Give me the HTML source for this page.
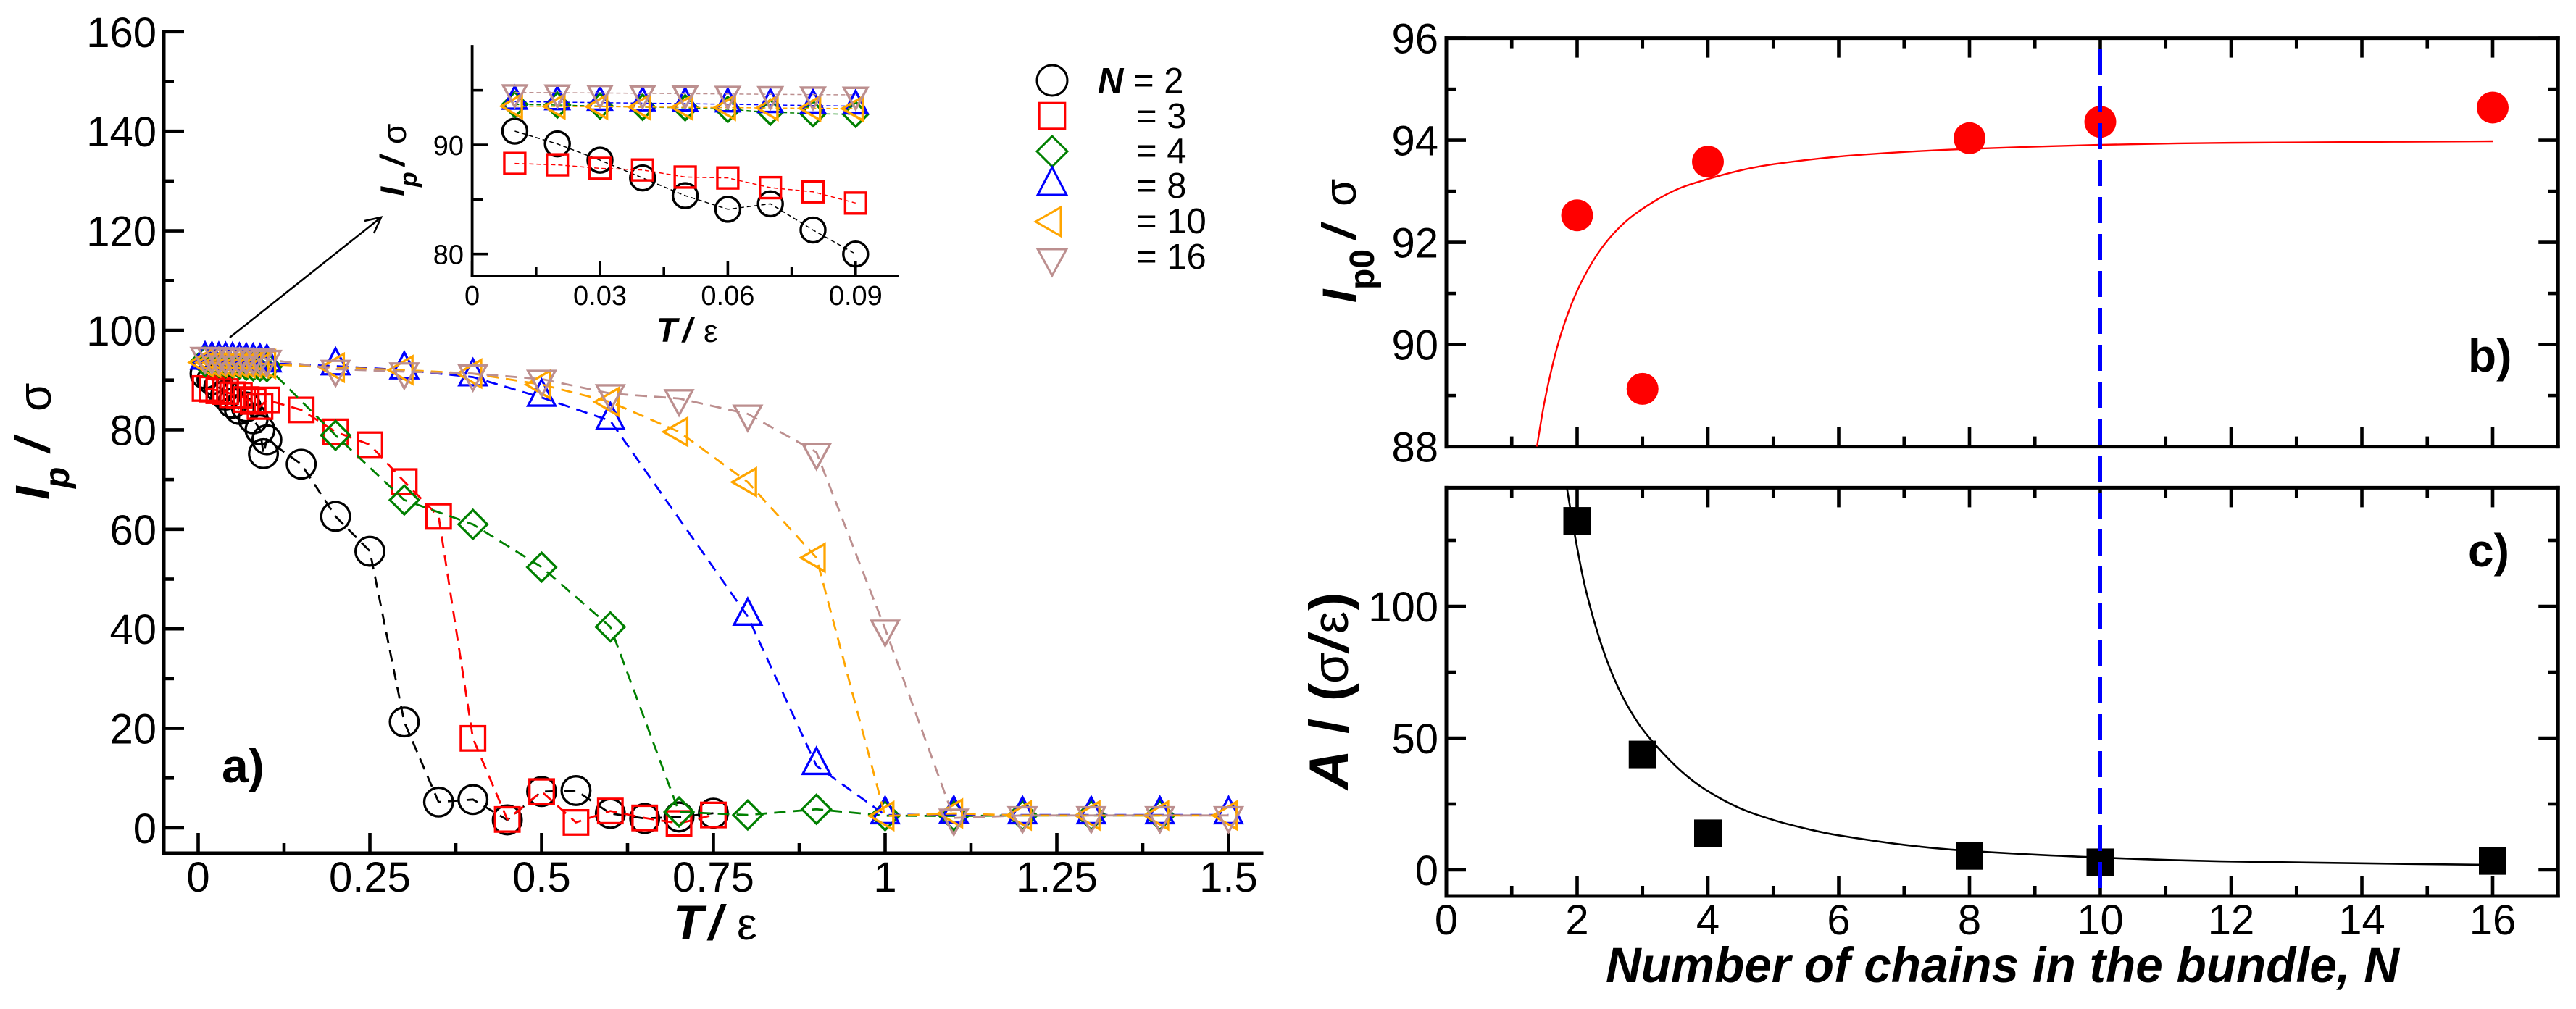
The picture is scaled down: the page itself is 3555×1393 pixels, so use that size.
<!DOCTYPE html>
<html lang="en">
<head>
<meta charset="utf-8">
<title>Persistence length versus temperature for polymer bundles</title>
<style>
html,body{margin:0;padding:0;background:#fff;width:3555px;height:1393px;overflow:hidden}
svg{display:block}
text{font-family:"Liberation Sans",sans-serif;fill:#000}
.bi{font-weight:bold;font-style:italic}
.b{font-weight:bold}
</style>
</head>
<body>
<svg id="figure" width="3555" height="1393" viewBox="0 0 3555 1393" xmlns="http://www.w3.org/2000/svg">
  <g id="panel-a">
    <g id="a-axes"></g>
    <g id="a-series"></g>
    <text x="306" y="1080" font-size="66" class="b">a)</text>
    <text transform="translate(68,690) rotate(-90)" font-size="67" class="bi"><tspan x="0">I</tspan><tspan x="16" dy="27" font-size="48">p</tspan><tspan x="66" dy="-27">/</tspan><tspan x="122" dy="2" font-size="64" font-weight="normal" font-style="normal">σ</tspan></text>
    <text y="1297" font-size="68" class="bi"><tspan x="929">T</tspan><tspan x="978">/</tspan><tspan x="1017" font-weight="normal" font-style="normal" font-size="62">ε</tspan></text>
    <g fill="none" stroke="#000" stroke-width="2.6">
      <line x1="317" y1="466" x2="526" y2="300"></line>
      <polyline points="503,305 526,300 516,322"></polyline>
    </g>
  </g>
  <g id="panel-inset">
    <g id="i-axes"></g>
    <g id="i-series"></g>
    <text transform="translate(558,271) rotate(-90)" font-size="47" class="bi"><tspan x="0">I</tspan><tspan x="13" dy="17" font-size="34">p</tspan><tspan x="42" dy="-17">/</tspan><tspan x="72" dy="2" font-size="46" font-weight="normal" font-style="normal">σ</tspan></text>
    <text y="472" font-size="47" class="bi"><tspan x="906">T</tspan><tspan x="942">/</tspan><tspan x="971" font-weight="normal" font-style="normal" font-size="44">ε</tspan></text>
  </g>
  <g id="legend">
    <g id="legend-marks"></g>
    <text x="1515" y="128" font-size="49"><tspan class="bi">N</tspan> = 2</text>
    <text x="1568" y="177" font-size="49">= 3</text>
    <text x="1568" y="225" font-size="49">= 4</text>
    <text x="1568" y="273" font-size="49">= 8</text>
    <text x="1568" y="322" font-size="49">= 10</text>
    <text x="1568" y="371" font-size="49">= 16</text>
  </g>
  <g id="panel-b">
    <g id="b-axes"></g>
    <g id="b-series"></g>
    <text x="3406" y="513" font-size="64" class="b">b)</text>
    <text transform="translate(1871,418) rotate(-90)" font-size="66" class="bi"><tspan x="0">I</tspan><tspan x="18" dy="25" font-size="48" font-style="normal">p0</tspan><tspan x="88" dy="-25">/</tspan><tspan x="133" font-size="62" font-weight="normal" font-style="normal">σ</tspan></text>
  </g>
  <g id="panel-c">
    <g id="c-axes"></g>
    <g id="c-series"></g>
    <text x="3406" y="782" font-size="64" class="b">c)</text>
    <text transform="translate(1860,1090) rotate(-90)" font-size="76" class="b"><tspan x="0" font-style="italic">A</tspan><tspan x="77">/</tspan><tspan x="122">(</tspan><tspan x="146" font-weight="normal" font-size="70">σ</tspan><tspan x="190" font-style="italic">/</tspan><tspan x="215" font-weight="normal" font-size="70">ε</tspan><tspan x="247">)</tspan></text>
    <text x="2216" y="1356" font-size="69" class="bi" textLength="1095" lengthAdjust="spacingAndGlyphs">Number of chains in the bundle, N</text>
  </g>
  <g id="ref-layer"></g>
</svg>
<script>
// ---------- Panel a + inset data (T / epsilon, Ip / sigma) ----------
const tempN2  = [0.01,0.02,0.03,0.04,0.05,0.06,0.07,0.08,0.09,0.095,0.1,0.15,0.2,0.25,0.3,0.35,0.4,0.45,0.5,0.55,0.6,0.65,0.7,0.75];
const lpN2    = [91.26,90.09,88.6,86.97,85.35,84.1,84.6,82.2,80.0,75.2,78,73.1,62.6,55.6,21.3,5.2,5.7,1.6,7.3,7.5,2.9,1.9,2.2,2.95];
const tempN3  = [0.01,0.02,0.03,0.04,0.05,0.06,0.07,0.08,0.09,0.1,0.15,0.2,0.25,0.3,0.35,0.4,0.45,0.5,0.55,0.6,0.65,0.7,0.75];
const lpN3    = [88.3,88.17,87.85,87.7,87.05,86.97,86.08,85.7,84.67,86,84,79.6,77,69.6,62.6,18,1.7,7.3,1.1,3.4,2,0.9,2.6];
const tempN4  = [0.01,0.02,0.03,0.04,0.05,0.06,0.07,0.08,0.09,0.1,0.2,0.3,0.4,0.5,0.6,0.7,0.8,0.9,1,1.1,1.2,1.3,1.4];
const lpN4    = [93.7,93.65,93.55,93.45,93.4,93.25,93.0,92.85,92.8,92.7,78.9,65.9,61,52.4,40.4,3.2,2.6,3.75,2.45,2.4,2.5,2.5,2.5];
const tempN8  = [0.01,0.02,0.03,0.04,0.05,0.06,0.07,0.08,0.09,0.1,0.2,0.3,0.4,0.5,0.6,0.8,0.9,1,1.1,1.2,1.3,1.4,1.5];
const lpN8    = [93.96,93.92,93.87,93.82,93.78,93.72,93.66,93.6,93.54,93.4,92.8,92,90.6,86.5,81.8,42.5,12.5,2.6,2.7,2.6,2.6,2.6,2.6];
const tempN10 = [0.01,0.02,0.03,0.04,0.05,0.06,0.07,0.08,0.09,0.1,0.2,0.3,0.4,0.5,0.6,0.7,0.8,0.9,1,1.1,1.2,1.3,1.4,1.5];
const lpN10   = [93.54,93.52,93.5,93.47,93.44,93.41,93.38,93.35,93.32,93.2,92.5,92,91.3,89.1,85.6,79.6,69.5,54.3,2.4,2.9,2.5,2.5,2.5,2.5];
const tempN16 = [0.01,0.02,0.03,0.04,0.05,0.06,0.07,0.08,0.09,0.1,0.2,0.3,0.4,0.5,0.6,0.7,0.8,0.9,1,1.1,1.2,1.3,1.4,1.5];
const lpN16   = [94.8,94.78,94.75,94.72,94.69,94.66,94.63,94.6,94.58,94.2,92.2,91.7,91.3,90.2,87.3,86.3,83.2,75.5,40,2.0,2.5,2.5,2.5,2.5];

// ---------- Panel a ticks ----------
const mainYMajor = [0,20,40,60,80,100,120,140,160];
const mainYMinor = [10,30,50,70,90,110,130,150];
const mainXMajor = [0,0.25,0.5,0.75,1,1.25,1.5];
const mainXLabels = ["0","0.25","0.5","0.75","1","1.25","1.5"];
const mainXMinor = [0.125,0.375,0.625,0.875,1.125,1.375];

// ---------- Inset ticks ----------
const insetYMajor = [80,90];
const insetYMinor = [85,95];
const insetXMajor = [0,0.03,0.06,0.09];
const insetXLabels = ["0","0.03","0.06","0.09"];
const insetXMinor = [0.015,0.045,0.075];

// ---------- Panel b data ----------
const chainsB = [2,3,4,8,10,16];
const lp0Values = [92.53,89.13,93.58,94.04,94.36,94.64];
const fitBN = [1.385,1.5,1.65,1.8,2,2.25,2.5,2.8,3.2,3.55,3.92,4.5,5,6,7,8,10,12,16];
const fitBI = [88.0,88.87,89.73,90.39,91.05,91.65,92.09,92.47,92.82,93.05,93.21,93.41,93.53,93.68,93.77,93.83,93.91,93.95,93.98];
const bYMajor = [88,90,92,94,96];
const bYMinor = [89,91,93,95];

// ---------- Panel c data ----------
const chainsC = [2,3,4,8,10,16];
const aValues = [132.4,43.8,13.9,5.3,2.9,3.4];
const fitCN = [1.843,1.965,2.13,2.37,2.63,2.925,3.22,3.59,3.96,4.48,5.03,5.58,6,7,8,10,12,16];
const fitCA = [145,127,106.5,85.5,69,56,46.8,37.5,30.5,23.5,18.7,15.2,13.1,9.5,7.2,4.7,3.2,1.9];
const cYMajor = [0,50,100];
const cYMinor = [25,75,125];
const rightXMajor = [0,2,4,6,8,10,12,14,16];
const rightXMinor = [1,3,5,7,9,11,13,15];
const criticalN = [10];

// ---------- Axis functions ----------
const xA = t => 273.5 + t * 948;
const yA = v => 1143 - v * 6.87;
const xI = t => 651.6 + t * 5880;
const yI = v => 350.7 - (v - 80) * 15.07;
const xR = n => 1996 + n * 90.25;
const yB = v => 616.6 - (v - 88) * 70.5;
const yC = v => 1201 - v * 3.64;

const NS = 'http://www.w3.org/2000/svg';
function add(parent, tag, attrs, text) {
  const el = document.createElementNS(NS, tag);
  for (const k in attrs) el.setAttribute(k, attrs[k]);
  if (text !== undefined) el.textContent = text;
  parent.appendChild(el);
  return el;
}
function tick(parent, x1, y1, x2, y2, w) {
  const el = add(parent, 'line', {x1, y1, x2, y2, stroke: '#000', 'stroke-width': w});
  
  
}
function spine(parent, x1, y1, x2, y2, w) {
  const el = add(parent, 'line', {x1, y1, x2, y2, stroke: '#000', 'stroke-width': w, 'stroke-linecap': 'square'});
  
  
}
function label(parent, x, y, str, size, anchor) {
  const el = add(parent, 'text', {x, y, 'font-size': size, 'text-anchor': anchor}, str);
  
  
}
function markerShape(parent, kind, cx, cy, s, color, sw) {
  let el;
  const common = {fill: 'none', stroke: color, 'stroke-width': sw};
  if (kind === 'circle') {
    el = add(parent, 'circle', Object.assign({cx, cy, r: 19.8 * s}, common));
  } else if (kind === 'square') {
    const h = 16.8 * s;
    el = add(parent, 'rect', Object.assign({x: cx - h, y: cy - h, width: 2 * h, height: 2 * h}, common));
  } else {
    let p;
    if (kind === 'diamond') p = [[0,-19.8],[19.8,0],[0,19.8],[-19.8,0]];
    if (kind === 'up') p = [[0,-24.5],[18.8,11.3],[-18.8,11.3]];
    if (kind === 'left') p = [[-21.5,0],[11.3,-18.8],[11.3,18.8]];
    if (kind === 'down') p = [[0,23],[18.8,-11.3],[-18.8,-11.3]];
    const pts = p.map(q => (cx + q[0] * s) + ',' + (cy + q[1] * s)).join(' ');
    el = add(parent, 'polygon', Object.assign({points: pts}, common));
  }
  return el;
}

const seriesList = [
  {n: 2,  kind: 'circle',  color: '#000000', temps: tempN2,  vals: lpN2},
  {n: 3,  kind: 'square',  color: '#ff0000', temps: tempN3,  vals: lpN3},
  {n: 4,  kind: 'diamond', color: '#008000', temps: tempN4,  vals: lpN4},
  {n: 8,  kind: 'up',      color: '#0000ff', temps: tempN8,  vals: lpN8},
  {n: 10, kind: 'left',    color: '#ffa500', temps: tempN10, vals: lpN10},
  {n: 16, kind: 'down',    color: '#bc8f8f', temps: tempN16, vals: lpN16}
];

// ---------- Panel a axes ----------
const aAxes = document.getElementById('a-axes');
spine(aAxes, 226, 44, 226, 1178, 5);
spine(aAxes, 226, 1178, 1741, 1178, 5);
mainYMajor.forEach(v => {
  tick(aAxes, 226, yA(v), 254, yA(v), 4.6);
  label(aAxes, 216, yA(v) + 21, String(v), 58, 'end');
});
mainYMinor.forEach(v => tick(aAxes, 226, yA(v), 240, yA(v), 4.6));
mainXMajor.forEach((t, i) => {
  tick(aAxes, xA(t), 1178, xA(t), 1150, 4.6);
  label(aAxes, xA(t), 1231, mainXLabels[i], 58, 'middle');
});
mainXMinor.forEach(t => tick(aAxes, xA(t), 1178, xA(t), 1164, 4.6));

// ---------- Inset axes ----------
const iAxes = document.getElementById('i-axes');
spine(iAxes, 651.6, 64, 651.6, 381, 3.8);
spine(iAxes, 651.6, 381, 1239, 381, 3.8);
insetYMajor.forEach(v => {
  tick(iAxes, 651.6, yI(v), 673, yI(v), 3.6);
  label(iAxes, 640, yI(v) + 14, String(v), 38, 'end');
});
insetYMinor.forEach(v => tick(iAxes, 651.6, yI(v), 666, yI(v), 3.6));
insetXMajor.forEach((t, i) => {
  tick(iAxes, xI(t), 381, xI(t), 361, 3.6);
  label(iAxes, xI(t), 421, insetXLabels[i], 38, 'middle');
});
insetXMinor.forEach(t => tick(iAxes, xI(t), 381, xI(t), 368, 3.6));

// ---------- Panel a + inset series ----------
const aSeries = document.getElementById('a-series');
const iSeries = document.getElementById('i-series');
seriesList.forEach(s => {
  const g = add(aSeries, 'g', {});
  
  
  const line = add(g, 'polyline', {
    points: s.temps.map((t, i) => xA(t) + ',' + yA(s.vals[i])).join(' '),
    fill: 'none', stroke: s.color, 'stroke-width': 2.8, 'stroke-dasharray': '16 10'
  });
  
  
  s.temps.forEach((t, i) => {
    const m = markerShape(g, s.kind, xA(t), yA(s.vals[i]), 1, s.color, 3.3);
    
    
  });

  const gi = add(iSeries, 'g', {});
  
  
  const idx = [];
  s.temps.forEach((t, i) => { if (t <= 0.0901) idx.push(i); });
  const il = add(gi, 'polyline', {
    points: idx.map(i => xI(s.temps[i]) + ',' + yI(s.vals[i])).join(' '),
    fill: 'none', stroke: s.color, 'stroke-width': 1.5, 'stroke-dasharray': '6 4'
  });
  
  
  idx.forEach(i => {
    const m = markerShape(gi, s.kind, xI(s.temps[i]), yI(s.vals[i]), 0.86, s.color, 3.4);
    
    
  });
});

// ---------- Legend markers ----------
const legendMarks = document.getElementById('legend-marks');
const legendRowY = [111, 160, 209, 257, 306, 356];
seriesList.forEach((s, i) => {
  const m = markerShape(legendMarks, s.kind, 1452, legendRowY[i], 1.06, s.color, 3);
  
  
});

// ---------- Panels b and c axes ----------
function boxAxes(parent, top, bottom, yMap, major, minor, showX) {
  const L = xR(0), R = xR(17);
  spine(parent, L, top, R, top, 5);
  spine(parent, L, bottom, R, bottom, 5);
  spine(parent, L, top, L, bottom, 5);
  spine(parent, R, top, R, bottom, 5);
  major.forEach(v => {
    tick(parent, L, yMap(v), L + 27, yMap(v), 4.6);
    tick(parent, R, yMap(v), R - 27, yMap(v), 4.6);
    label(parent, 1985, yMap(v) + 21, String(v), 58, 'end');
  });
  minor.forEach(v => {
    tick(parent, L, yMap(v), L + 14, yMap(v), 4.6);
    tick(parent, R, yMap(v), R - 14, yMap(v), 4.6);
  });
  rightXMajor.forEach(n => {
    tick(parent, xR(n), bottom, xR(n), bottom - 27, 4.6);
    tick(parent, xR(n), top, xR(n), top + 27, 4.6);
    if (showX) label(parent, xR(n), 1290, String(n), 58, 'middle');
  });
  rightXMinor.forEach(n => {
    tick(parent, xR(n), bottom, xR(n), bottom - 14, 4.6);
    tick(parent, xR(n), top, xR(n), top + 14, 4.6);
  });
}
boxAxes(document.getElementById('b-axes'), 52.6, 616.6, yB, bYMajor, bYMinor, false);
boxAxes(document.getElementById('c-axes'), 673.4, 1237, yC, cYMajor, cYMinor, true);

// Non-uniform Catmull-Rom through the read curve points (chord-length spacing)
function smoothPath(xs, ys) {
  const n = xs.length;
  const h = [];
  for (let i = 0; i < n - 1; i++) h.push(Math.hypot(xs[i + 1] - xs[i], ys[i + 1] - ys[i]));
  const mx = [], my = [];
  for (let i = 0; i < n; i++) {
    const a = Math.max(i - 1, 0), b = Math.min(i + 1, n - 1);
    let len = 0;
    for (let k = a; k < b; k++) len += h[k];
    mx.push((xs[b] - xs[a]) / len);
    my.push((ys[b] - ys[a]) / len);
  }
  let d = 'M' + xs[0] + ' ' + ys[0];
  for (let i = 0; i < n - 1; i++) {
    d += ' C' + (xs[i] + mx[i] * h[i] / 3) + ' ' + (ys[i] + my[i] * h[i] / 3) + ' ' +
         (xs[i + 1] - mx[i + 1] * h[i] / 3) + ' ' + (ys[i + 1] - my[i + 1] * h[i] / 3) + ' ' +
         xs[i + 1] + ' ' + ys[i + 1];
  }
  return d;
}

// ---------- Panel b series ----------
const bSeries = document.getElementById('b-series');
const fitB = add(bSeries, 'path', {d: smoothPath(fitBN.map(xR), fitBI.map(yB)), fill: 'none', stroke: '#ff0000', 'stroke-width': 2.4});


chainsB.forEach((n, i) => {
  const c = add(bSeries, 'circle', {cx: xR(n), cy: yB(lp0Values[i]), r: 22, fill: '#ff0000'});
  
  
});

// ---------- Panel c series ----------
const cSeries = document.getElementById('c-series');
const fitC = add(cSeries, 'path', {d: smoothPath(fitCN.map(xR), fitCA.map(yC)), fill: 'none', stroke: '#000000', 'stroke-width': 2.6});


chainsC.forEach((n, i) => {
  const r = add(cSeries, 'rect', {x: xR(n) - 19, y: yC(aValues[i]) - 19, width: 38, height: 38, fill: '#000000'});
  
  
});

// ---------- Critical N reference line ----------
const refLayer = document.getElementById('ref-layer');
criticalN.forEach(n => {
  const l = add(refLayer, 'line', {x1: xR(n), y1: 68, x2: xR(n), y2: 1237, stroke: '#0000ff', 'stroke-width': 5, 'stroke-dasharray': '36 15'});
  
  
});
</script>
</body>
</html>
